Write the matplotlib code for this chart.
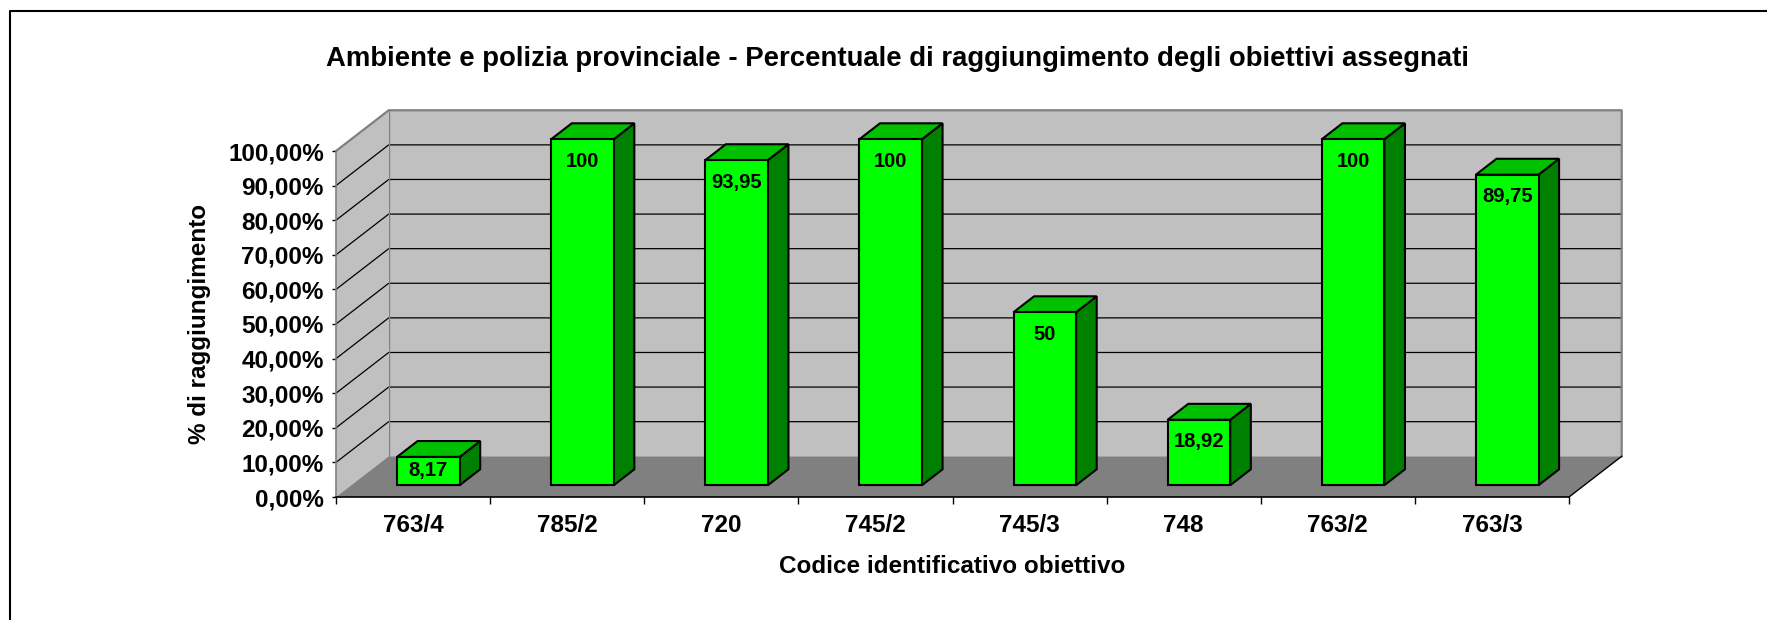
import numpy as np
import matplotlib
matplotlib.use("Agg")
import matplotlib.pyplot as plt
from matplotlib.patches import Polygon
from matplotlib.lines import Line2D

plt.rcParams['font.family'] = ['Liberation Sans', 'DejaVu Sans']
plt.rcParams['font.weight'] = 'bold'

# data
codici = ["763/4", "785/2", "720", "745/2", "745/3", "748", "763/2", "763/3"]
percentuali = [8.17, 100, 93.95, 100, 50, 18.92, 100, 89.75]
y_ticks = [0, 10, 20, 30, 40, 50, 60, 70, 80, 90, 100]

titolo = "Ambiente e polizia provinciale - Percentuale di raggiungimento degli obiettivi assegnati"
x_titolo = "Codice identificativo obiettivo"
y_titolo = "% di raggiungimento"

# fake 3d: depth of the floor, in axis units (categories / percent)
DEPTH_X = 0.342
DEPTH_Y = 11.77
BAR_W = 0.406
BAR_Z0, BAR_Z1 = 0.29, 0.68

W, H = 1767, 620
fig = plt.figure(figsize=(W / 100, H / 100), dpi=100)
ax = fig.add_axes([336 / W, 123 / H, 1233 / W, 346 / H])
n = len(codici)
x0, x1 = -0.5, n - 0.5
ax.set_xlim(x0, x1)
ax.set_ylim(0, 100)
ax.patch.set_visible(False)


def shift(x, y, z):
    return (x + z * DEPTH_X, y + z * DEPTH_Y)


# walls and floor
side = [(x0, 0), shift(x0, 0, 1), shift(x0, 100, 1), (x0, 100)]
back = [shift(x0, 0, 1), shift(x1, 0, 1), shift(x1, 100, 1), shift(x0, 100, 1)]
floor = [(x0, 0), (x1, 0), shift(x1, 0, 1), shift(x0, 0, 1)]
for pts, col in [(side, '#C0C0C0'), (back, '#C0C0C0'), (floor, '#808080')]:
    ax.add_patch(Polygon(pts, closed=True, facecolor=col, edgecolor='none',
                         clip_on=False, zorder=0))

# gridlines on the walls
for v in y_ticks[1:-1]:
    gx = [x0, shift(x0, v, 1)[0], shift(x1, v, 1)[0]]
    gy = [v, shift(x0, v, 1)[1], shift(x1, v, 1)[1]]
    ax.plot(gx, gy, color='black', lw=0.9, clip_on=False, zorder=1)

# wall outline
top_l = shift(x0, 100, 1)
top_r = shift(x1, 100, 1)
bot_r = shift(x1, 0, 1)
bot_l = shift(x0, 0, 1)
ax.plot([x0, top_l[0], top_r[0], bot_r[0]], [100, top_l[1], top_r[1], bot_r[1]],
        color='#808080', lw=1.6, clip_on=False, zorder=1)
ax.plot([bot_l[0], top_l[0]], [bot_l[1], top_l[1]], color='#808080', lw=1.0,
        clip_on=False, zorder=1)
ax.plot([x1, bot_r[0]], [0, bot_r[1]], color='black', lw=1.0, clip_on=False, zorder=1)

# bars
for i, v in enumerate(percentuali):
    xl, xr = i - BAR_W / 2, i + BAR_W / 2
    front = [shift(xl, 0, BAR_Z0), shift(xr, 0, BAR_Z0), shift(xr, v, BAR_Z0), shift(xl, v, BAR_Z0)]
    top = [shift(xl, v, BAR_Z0), shift(xr, v, BAR_Z0), shift(xr, v, BAR_Z1), shift(xl, v, BAR_Z1)]
    lato = [shift(xr, 0, BAR_Z0), shift(xr, 0, BAR_Z1), shift(xr, v, BAR_Z1), shift(xr, v, BAR_Z0)]
    for pts, col in [(lato, '#008000'), (top, '#00C000'), (front, '#00FF00')]:
        ax.add_patch(Polygon(pts, closed=True, facecolor=col, edgecolor='black',
                             lw=1.5, joinstyle='miter', clip_on=False, zorder=3))
    lx, ly = shift(i, max(v - 6.4, 4.3), BAR_Z0)
    etichetta = f"{v:g}".replace('.', ',')
    ax.text(lx, ly, etichetta, ha='center', va='center', fontsize=14.5,
            fontweight='bold', zorder=4)

# axes
for s in ['top', 'right']:
    ax.spines[s].set_visible(False)
ax.spines['left'].set_color('#808080')
ax.spines['left'].set_linewidth(1.2)
ax.spines['bottom'].set_color('black')
ax.spines['bottom'].set_linewidth(1.2)
ax.spines['left'].set_zorder(2)
ax.spines['bottom'].set_zorder(2)

ax.set_yticks(y_ticks, [f"{t},00%" for t in y_ticks])
ax.tick_params(axis='y', length=3, width=1, color='black', pad=5.8, labelsize=17.5)
ax.set_xticks(range(n), codici)
ax.set_xticks(np.arange(n + 1) - 0.5, minor=True)
ax.tick_params(axis='x', which='major', length=0, pad=12, labelsize=17.5)
ax.tick_params(axis='x', which='minor', length=5, width=1, color='black')

ax.set_xlabel(x_titolo, fontsize=17.5, fontweight='bold', labelpad=13.3)
ax.set_ylabel(y_titolo, fontsize=17.5, fontweight='bold', labelpad=12.3)

fig.text(897 / W, 1 - 59 / H, titolo, ha='center', va='center', fontsize=19.8,
         fontweight='bold')

# chart area border (only top and left fall inside the picture)
fig.add_artist(Line2D([9.5 / W, 9.5 / W, 1], [0, 1 - 11 / H, 1 - 11 / H],
                      transform=fig.transFigure, color='black', lw=1.5))

fig.savefig("out.png", dpi=100)
